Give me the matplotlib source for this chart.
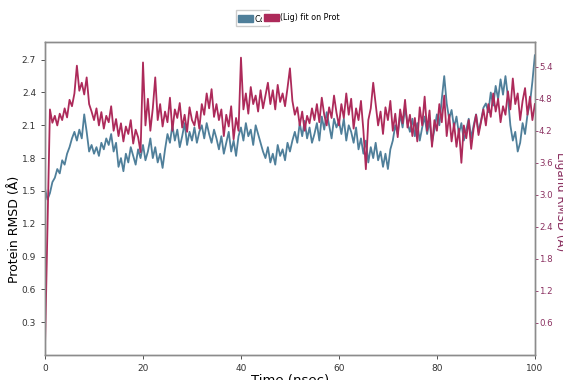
import matplotlib
matplotlib.use("Agg")
import matplotlib.pyplot as plt
import matplotlib.patches as mpatches
import numpy as np

# time axis, one frame every 0.5 ns
time_ns = np.arange(0, 100.5, 0.5)

# protein C-alpha RMSD (A)
prot_rmsd = [
    1.52, 1.42, 1.48, 1.58, 1.62, 1.70, 1.66, 1.78, 1.74, 1.84,
    1.90, 1.98, 2.04, 1.96, 2.06, 1.98, 2.20, 2.04, 1.86, 1.92,
    1.84, 1.90, 1.82, 1.94, 1.88, 1.98, 1.92, 2.02, 1.86, 1.94,
    1.72, 1.80, 1.68, 1.84, 1.76, 1.90, 1.82, 1.74, 1.88, 1.80,
    1.92, 1.78, 1.86, 1.98, 1.80, 1.90, 1.76, 1.84, 1.71, 1.88,
    2.02, 1.94, 2.10, 1.96, 2.06, 1.90, 2.00, 2.12, 1.92, 2.04,
    1.96, 2.08, 1.94, 2.04, 2.10, 1.98, 2.12, 2.02, 1.94, 2.06,
    1.98, 1.88, 2.00, 1.84, 1.94, 2.04, 1.86, 1.96, 1.82, 2.00,
    2.08, 1.96, 2.12, 2.00, 2.06, 1.92, 2.10, 2.02, 1.94, 1.86,
    1.80, 1.90, 1.76, 1.84, 1.74, 1.92, 1.82, 1.88, 1.78, 1.94,
    1.86, 1.96, 2.04, 1.94, 2.12, 2.00, 2.14, 1.98, 2.08, 1.94,
    2.02, 2.12, 1.96, 2.18, 2.06, 2.22, 2.10, 1.98, 2.16, 2.08,
    2.14, 2.02, 2.16, 1.96, 2.10, 2.04, 1.94, 2.08, 1.88, 1.98,
    1.84, 1.96, 1.76, 1.90, 1.80, 1.94, 1.78, 1.86, 1.72, 1.84,
    1.70, 1.88, 1.96, 2.10, 2.02, 2.20, 2.08, 2.26, 2.12, 2.04,
    2.16, 2.00, 2.12, 1.96, 2.08, 2.18, 2.02, 2.14, 1.94, 2.06,
    2.20, 2.10, 2.34, 2.55, 2.30, 2.16, 2.24, 2.08, 2.18, 2.02,
    2.12, 1.96, 2.06, 2.16, 1.98, 2.10, 2.20, 2.04, 2.14, 2.26,
    2.30, 2.22, 2.40, 2.28, 2.46, 2.34, 2.52, 2.38, 2.55, 2.36,
    2.10, 1.96, 2.04, 1.86, 1.94, 2.12, 2.02, 2.20, 2.30, 2.50,
    2.74,
]

# ligand RMSD (A), fit on protein
lig_rmsd = [
    0.20, 2.40, 4.60, 4.35, 4.48, 4.30, 4.52, 4.40, 4.62, 4.45,
    4.78, 4.66, 4.90, 5.42, 4.95, 5.10, 4.88, 5.20, 4.70, 4.56,
    4.40, 4.62, 4.30, 4.55, 4.24, 4.48, 4.36, 4.66, 4.20, 4.42,
    4.10, 4.34, 4.00, 4.28, 4.14, 4.40, 3.96, 4.22, 4.08, 3.80,
    5.48, 4.30, 4.80, 4.20, 4.62, 5.20, 4.40, 4.70, 4.28, 4.56,
    4.36, 4.82, 4.20, 4.60, 4.44, 4.72, 4.26, 4.50, 4.18, 4.64,
    4.40, 4.30, 4.56, 4.24, 4.70, 4.50, 4.90, 4.62, 4.98, 4.46,
    4.70, 4.40, 4.60, 4.10, 4.50, 4.28, 4.66, 4.04, 4.44, 4.20,
    5.57, 4.60, 4.90, 4.52, 5.02, 4.70, 4.86, 4.56, 4.96, 4.62,
    4.86, 5.10, 4.70, 4.96, 4.60, 5.06, 4.74, 4.90, 4.66, 5.00,
    5.37, 4.76, 4.50, 4.64, 4.30, 4.56, 4.20, 4.48, 4.34, 4.62,
    4.40, 4.70, 4.36, 4.82, 4.50, 4.30, 4.64, 4.44, 4.86, 4.54,
    4.30, 4.70, 4.44, 4.90, 4.50, 4.80, 4.24, 4.62, 4.40, 4.76,
    4.20, 3.48, 4.40, 4.62, 5.10, 4.70, 4.30, 4.56, 4.14, 4.64,
    4.40, 4.76, 4.20, 4.52, 4.08, 4.60, 4.34, 4.78, 4.26, 4.50,
    4.10, 4.44, 4.00, 4.64, 4.30, 4.84, 4.20, 4.58, 3.90, 4.40,
    4.20, 4.70, 4.36, 4.86, 4.10, 4.50, 4.00, 4.34, 3.90, 4.24,
    3.60, 4.30, 4.06, 4.40, 3.86, 4.24, 4.50, 4.12, 4.36, 4.60,
    4.30, 4.70, 4.46, 4.90, 4.56, 4.80, 4.36, 4.66, 4.50, 4.94,
    4.60, 5.18, 4.70, 4.90, 4.40, 4.76, 5.00, 4.50, 4.84, 4.40,
    4.70,
]

prot_ticks = [0.3, 0.6, 0.9, 1.2, 1.5, 1.8, 2.1, 2.4, 2.7]
lig_ticks = [0.6, 1.2, 1.8, 2.4, 3.0, 3.6, 4.2, 4.8, 5.4]
x_ticks = [0, 20, 40, 60, 80, 100]

blue = "#4f7f9a"
red = "#ad2a5a"
red_txt = "#8a3060"
spine_col = "#8c8c8c"

fig = plt.figure(figsize=(5.63, 3.8), dpi=100)
ax1 = fig.add_axes([0.080, 0.066, 0.870, 0.823])
ax2 = ax1.twinx()

ax1.plot(time_ns, prot_rmsd, color=blue, lw=1.3)
ax2.plot(time_ns, lig_rmsd, color=red, lw=1.3)

ax1.set_xlim(0, 100)
ax1.set_ylim(0, 2.86)
ax2.set_ylim(0, 5.86)
ax1.set_xticks(x_ticks)
ax1.set_yticks(prot_ticks)
ax2.set_yticks(lig_ticks)
ax1.set_yticklabels([f"{v:.1f}" for v in prot_ticks])
ax2.set_yticklabels([f"{v:.1f}" for v in lig_ticks])

ax1.tick_params(labelsize=6.5, colors="#333333", length=3, width=0.6)
ax2.tick_params(labelsize=6.2, colors=red_txt, length=2, width=0.6, pad=1)
for ax in (ax1, ax2):
    for s in ax.spines.values():
        s.set_color(spine_col)
        s.set_linewidth(1.0)

ax1.set_xlabel("Time (nsec)", fontsize=9.5, labelpad=1)
ax1.set_ylabel("Protein RMSD (Å)", fontsize=9, va="center")
ax1.yaxis.set_label_coords(-0.062, 0.40)
ax2.set_ylabel("Ligand RMSD (Å)", fontsize=8.5, color=red_txt,
               rotation=270, va="center")
ax2.yaxis.set_label_coords(1.054, 0.49)

# two overlapping legends, as in the original
leg_kw = dict(loc="center left", bbox_transform=fig.transFigure, fontsize=5.8,
              handlelength=1.75, handleheight=0.9, borderpad=0.3,
              borderaxespad=0, handletextpad=0.2, framealpha=1,
              edgecolor="#cccccc", fancybox=False)
leg1 = ax1.legend(handles=[mpatches.Patch(color=blue, label="C$\\alpha$")],
                  bbox_to_anchor=(236 / 563, 1 - 18 / 380), **leg_kw)
leg2 = ax2.legend(handles=[mpatches.Patch(color=red, label="(Lig) fit on Prot")],
                  bbox_to_anchor=(262 / 563, 1 - 18 / 380), **leg_kw)
leg2.get_frame().set_linewidth(0)

fig.savefig("out.png", dpi=100)
